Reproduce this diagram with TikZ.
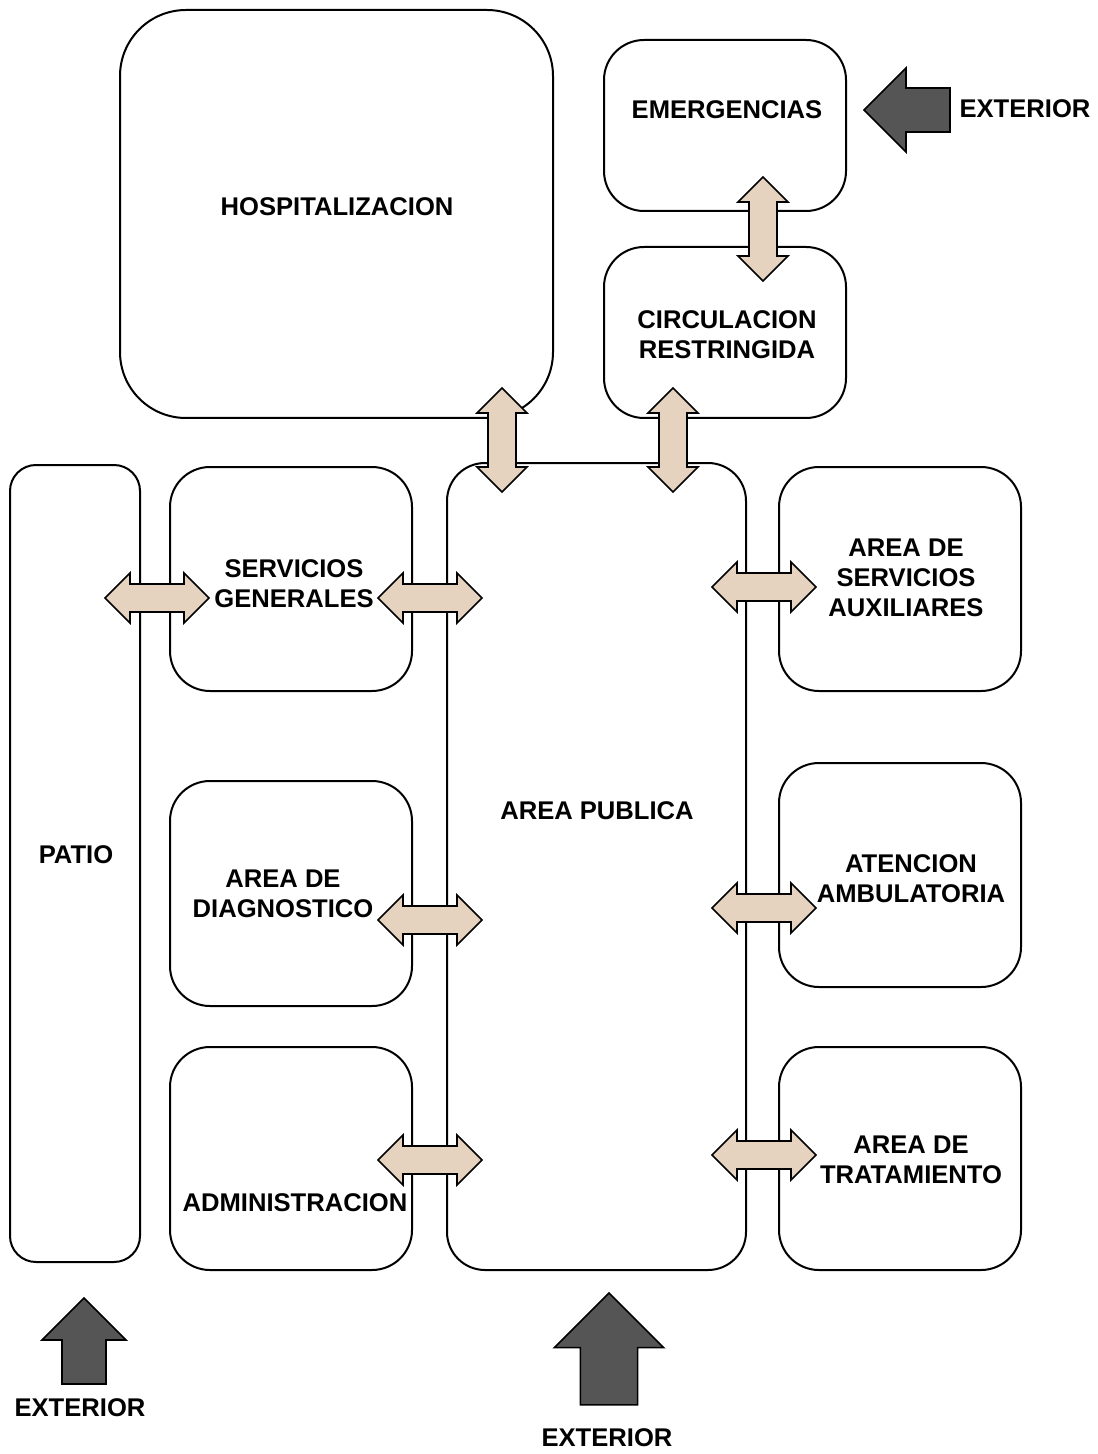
\documentclass[tikz,border=0pt]{standalone}
\usepackage{fontspec}
\setmainfont{Liberation Sans}
\usetikzlibrary{positioning}

\definecolor{flujo}{RGB}{229,211,192}
\definecolor{acceso}{RGB}{85,85,85}

\tikzset{
	zona/.style={draw, line width=1pt, rounded corners=20pt},
	rotulo/.style={font=\fontsize{12.8}{15}\selectfont\bfseries, align=center, inner sep=0pt},
	% flecha doble entre zonas
	pics/paso/.style={code={
		\draw[line width=0.8pt, fill=flujo, line join=miter]
			(-52,0) -- (-27,-25) -- (-27,-14) -- (27,-14) -- (27,-25) -- (52,0)
			-- (27,25) -- (27,14) -- (-27,14) -- (-27,25) -- cycle;
	}},
	% flecha de acceso desde el exterior
	pics/entrada/.style={code={
		\draw[line width=0.8pt, fill=acceso, line join=miter]
			(0,0) -- (42,42) -- (22,42) -- (22,86) -- (-22,86) -- (-22,42) -- (-42,42) -- cycle;
	}},
}

\begin{document}
\begin{tikzpicture}[x=0.5pt, y=-0.5pt]
		\useasboundingbox (0,0) rectangle (1097,1454);
		% Zonas superiores
		\draw[zona, rounded corners=33pt] (120,10) rectangle (553,418);
		\node[rotulo] (hosp) at (337,207) {HOSPITALIZACION};
		\draw[zona] (604,40) rectangle (846,211);
		\node[rotulo] (emerg) at (727,110) {EMERGENCIAS};
		\draw[zona] (604,247) rectangle (846,418);
		\node[rotulo] (circ) at (727,335) {CIRCULACION\\RESTRINGIDA};
		
		% Columna izquierda
		\draw[zona, rounded corners=13pt] (10,465) rectangle (140,1262);
		\node[rotulo] (patio) at (76,855) {PATIO};
		\draw[zona] (170,467) rectangle (412,691);
		\node[rotulo] (servgen) at (294,584) {SERVICIOS\\GENERALES};
		\draw[zona] (170,781) rectangle (412,1006);
		\node[rotulo] (diag) at (283,894) {AREA DE\\DIAGNOSTICO};
		\draw[zona] (170,1047) rectangle (412,1270);
		\node[rotulo] (admin) at (295,1203) {ADMINISTRACION};
		
		% Area publica
		\draw[zona, rounded corners=19pt] (447,463) rectangle (746,1270);
		\node[rotulo] (publica) at (597,811) {AREA PUBLICA};
		
		% Columna derecha
		\draw[zona] (779,467) rectangle (1021,691);
		\node[rotulo] (aux) at (906,578) {AREA DE\\SERVICIOS\\AUXILIARES};
		\draw[zona] (779,763) rectangle (1021,987);
		\node[rotulo] (ambul) at (911,879) {ATENCION\\AMBULATORIA};
		\draw[zona] (779,1047) rectangle (1021,1270);
		\node[rotulo] (trat) at (911,1160) {AREA DE\\TRATAMIENTO};
		
		% Flechas entre zonas
		\pic[rotate=90] at (502,440) {paso};
		\pic[rotate=90] at (673,440) {paso};
		\pic[rotate=90] at (763,229) {paso};
		\pic at (157,598) {paso};
		\pic at (430,598) {paso};
		\pic at (430,920) {paso};
		\pic at (430,1160) {paso};
		\pic at (764,587) {paso};
		\pic at (764,908) {paso};
		\pic at (764,1155) {paso};
		
		% Accesos
		\pic[rotate=90] at (864,110) {entrada};
		\node[rotulo] (ext1) at (1025,109) {EXTERIOR};
		\pic at (84,1298) {entrada};
		\node[rotulo] (ext2) at (80,1408) {EXTERIOR};
		\pic[scale=1.3] at (609,1293) {entrada};
		\node[rotulo] (ext3) at (607,1438) {EXTERIOR};
	\end{tikzpicture}
\end{document}
